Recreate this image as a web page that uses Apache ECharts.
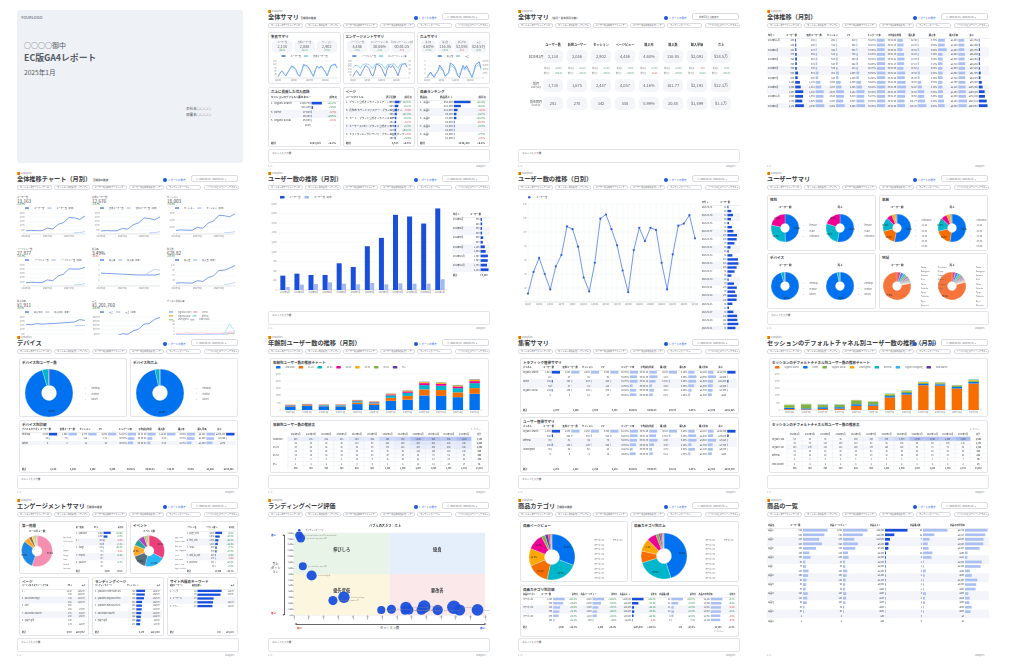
<!DOCTYPE html>
<html lang="ja">
<head>
<meta charset="utf-8">
<title>EC版GA4レポート</title>
<script src="https://cdn.jsdelivr.net/npm/echarts@6/dist/echarts.min.js"></script>
<style>
html,body{margin:0;padding:0;background:#fff;}
body{width:1024px;height:667px;position:relative;overflow:hidden;font-family:"Noto Sans CJK JP","Noto Sans",sans-serif;color:#3c4043;}
.pg{position:absolute;width:222px;height:158px;}
.a{position:absolute;white-space:nowrap;line-height:1;}
.cover{background:#eef1f6;border-radius:3px;}
.logo{left:0;top:0;font-size:2.6px;color:#80868b;}
.logo i{display:inline-block;width:2.6px;height:2.6px;margin-right:1px;vertical-align:-0.3px;background:linear-gradient(90deg,#f9ab00 0 30%,transparent 30% 36%,#e37400 36% 64%,transparent 64% 70%,#e37400 70%);}
.ttl{left:0;top:4.2px;font-size:6.2px;font-weight:700;color:#3c4043;}
.ttl small{font-size:2.6px;margin-left:1.5px;font-weight:700;color:#5f6368;}
.btn{left:146px;top:5.5px;font-size:2.5px;color:#1a56db;}
.btn b{display:inline-block;width:4px;height:4px;border-radius:50%;background:#1a56db;margin-right:1px;vertical-align:-1.2px;}
.date{left:174px;top:3px;width:47px;height:7px;border:0.5px solid #dadce0;border-radius:2px;font-size:2.2px;color:#5f6368;box-sizing:border-box;padding:2.2px 0 0 4px;}
.flt{top:13px;width:35.3px;height:5px;border:0.5px solid #dadce0;border-radius:2px;font-size:2.1px;color:#5f6368;box-sizing:border-box;padding:1.3px 0 0 2px;overflow:hidden;text-overflow:ellipsis;}
.pnl{border:0.5px solid #e3e5e8;border-radius:2px;background:#fff;box-sizing:border-box;}
.pt{font-size:3.5px;font-weight:700;color:#3c4043;}
.sm{font-size:2.5px;color:#5f6368;}
.cmt{left:0;top:139px;width:222px;height:14px;border:0.5px solid #e3e5e8;border-radius:2px;box-sizing:border-box;font-size:2.4px;color:#5f6368;padding:2px 3px;}
.ft{top:155px;font-size:2.2px;color:#80868b;}
</style>
</head>
<body>
<script>
// ---------------- data ----------------
const months12 = ['2024年2月','2024年3月','2024年4月','2024年5月','2024年6月','2024年7月','2024年8月','2024年9月','2024年10月','2024年11月','2024年12月','2025年1月'];
const monthlyUsers = [376,428,393,393,699,603,1145,1364,1967,1923,1738,2134];
const prevYearUsers = [78,140,157,201,166,149,184,149,175,166,166,281];
const monthlyNew = [362,410,378,380,672,580,1102,1318,1898,1855,1675,2046];
const monthlySessions = [512,585,540,536,951,820,1560,1857,2678,2615,2447,2902];
const monthlyPV = [786,890,822,818,1455,1256,2390,2845,4102,4010,4057,4446];
const monthlyCVR = [4.9,4.8,4.7,4.6,4.5,4.4,4.3,4.2,4.2,4.2,4.16,4.6];
const monthlyPurchases = [16.2,18.9,17.1,16.5,30.4,25.8,48.0,58.2,88.5,90.6,101.77,116.85];
const monthlyAOV = [1620,1580,1710,1650,1690,1720,1760,1810,1850,1900,2193,2093];
const monthlyRevenue = [26244,29862,29241,27225,51376,44376,84480,105342,163725,172140,223182,244567];
const prevUsers = [null,null,null,null,null,null,null,null,null,166,166,281];
const prevNew = [null,null,null,null,null,null,null,null,null,160,161,278];
const prevSessions = [null,null,null,null,null,null,null,null,null,201,204,342];
const prevPV = [null,null,null,null,null,null,null,null,null,325,330,558];
const prevCVR = [null,null,null,null,null,null,null,null,4.1,5.3,6.4,5.99];
const prevPurchases = [null,null,null,null,null,null,null,null,null,9.6,11.2,20.48];
const prevAOV = [null,null,null,null,null,null,null,null,null,1450,1480,1499];
const prevRevenue = [null,null,null,null,null,null,null,null,null,13900,16600,30700];
const cvrOrganic = [3.1,3.0,2.9,3.2,3.1,3.0,3.3,3.2,3.4,3.5,4.1,4.2];
const cvrDirect = [4.2,4.0,4.5,4.1,4.3,4.4,4.0,4.2,4.1,4.3,5.2,5.2];
const cvrSocial = [2.0,2.2,1.9,2.1,2.3,2.0,2.2,2.1,2.0,2.2,2.3,2.2];
const cvrReferral = [0,0,0,0,0,0,0,0,0,4.0,12.5,5.5];
const cvrUnassigned = [1.5,1.8,2.0,1.6,1.9,2.1,1.7,1.8,2.0,2.2,3.9,3.9];
const cvrPaid = [0,0,0,0,0,0,0,0,0,0,1.3,1.2];

// 15-month table
const months15 = ['2023年11月','2023年12月','2024年1月','2024年2月','2024年3月','2024年4月','2024年5月','2024年6月','2024年7月','2024年8月','2024年9月','2024年10月','2024年11月','2024年12月','2025年1月'];
const users15 = [205,248,281,376,428,393,393,699,603,1145,1364,1967,1923,1738,2134];
const new15 = [198,240,278,362,410,378,380,672,580,1102,1318,1898,1855,1675,2046];
const sessions15 = [262,318,342,512,585,540,536,951,820,1560,1857,2678,2615,2447,2902];
const pv15 = [410,502,558,786,890,822,818,1455,1256,2390,2845,4102,4010,4057,4446];
const eng15 = [58.2,60.1,57.4,61.3,59.8,62.0,60.7,63.5,61.9,64.2,62.8,60.4,61.7,62.5,60.9];
const time15 = [62,70,58,75,81,77,69,88,84,92,96,90,87,82,85];
const purch15 = [12.4,14.8,20.48,16.2,18.9,17.1,16.5,30.4,25.8,48.0,58.2,88.5,90.6,101.77,116.85];
const cvr15 = [4.73,4.65,5.99,3.16,3.23,3.17,3.08,3.20,3.15,3.08,3.13,3.30,3.46,4.16,4.60];
const aov15 = [1480,1520,1499,1620,1580,1710,1650,1690,1720,1760,1810,1850,1900,2193,2093];
const revenue15 = [18352,22496,30700,26244,29862,29241,27225,51376,44376,84480,105342,163725,172140,223182,244567];

// daily (January)
const dailyUsers = [12,43,63,40,18,51,67,108,104,79,35,15,56,119,125,104,81,45,14,74,106,87,106,103,56,18,68,109,112,124,91];
const dailyNew = [12,41,61,39,17,49,65,104,100,76,33,15,54,114,120,100,78,43,13,71,102,84,102,99,54,17,65,105,108,119,87];
const dailyPV = [25,90,131,84,38,106,140,225,217,164,73,32,117,248,261,217,169,93,29,154,221,182,221,215,117,38,142,228,234,259,190];
const dailyEng = [24.1,29.5,31.2,28.8,22.4,30.1,31.8,33.6,33.0,31.1,27.2,21.9,30.4,34.2,34.8,33.1,31.5,26.9,20.8,31.2,33.4,32.0,33.7,33.2,29.6,22.7,30.9,33.8,34.1,34.6,32.3];
const dailyPurchases = [0.2,1.6,2.8,1.4,0.3,2.1,3.1,6.0,5.5,3.7,0.9,0.2,2.5,7.1,7.9,5.8,3.9,1.3,0.2,3.4,5.9,4.4,5.8,5.5,2.2,0.3,3.1,6.2,6.6,7.6,4.6];
const dailyRevenue = [420,3350,5880,2930,630,4400,6490,12560,11510,7740,1880,420,5230,14860,16530,12140,8160,2720,420,7110,12350,9210,12140,11510,4600,630,6490,12980,13810,15910,9630];
const days31 = Array.from({length:31},(_,i)=>'1月'+(i+1)+'日');
const dates31 = Array.from({length:31},(_,i)=>'2025/01/'+String(i+1).padStart(2,'0'));

// summary KPIs
const kpiNames = ['ユーザー数','新規ユーザー','セッション','ページビュー','購入率','購入数','購入単価','売上'];
const kpiJan = ['2,134','2,046','2,902','4,446','4.60%','116.85','¥2,093','¥24.5万'];
const kpiPrevMonth = ['1,738','1,675','2,447','4,057','4.16%','101.77','¥2,193','¥22.3万'];
const kpiPrevYear = ['281','278','342','558','5.99%','20.48','¥1,499','¥3.1万'];
const kpiMoM = ['+22.8%','+22.1%','+18.6%','+9.6%','+10.6%','+14.8%','-4.6%','+9.9%'];
const kpiYoY = ['+659.4%','+636.0%','+748.5%','+696.8%','-23.2%','+470.6%','+39.6%','+690.3%'];

// channels
const srcChannels = ['Organic Search','Referral','Direct','Unassigned','Organic Social','Paid Search'];
const srcRevenue = [194700,28400,7900,6400,5900,225];
const srcChange = ['+11.2%','+4.5%','-8.3%','+19.6%','-2.1%','-'];
const pageTitlesTop = ['ブランド公式オンラインストア｜レザーバッグ・財布','レザートートバッグ A01｜ブランド公式オンラインストア','長財布 ラウンドファスナー｜ブランド公式オンラインストア','カテゴリ：バッグ一覧｜ブランド公式オンラインストア','カート｜ブランド公式オンラインストア','ミニ財布 B02｜ブランド公式オンラインストア','キーケース C03｜ブランド公式オンラインストア','新着アイテム｜ブランド公式オンラインストア','ギフトラッピングについて｜ブランド公式オンラインストア','ショルダーバッグ D04｜ブランド公式オンラインストア'];
const pageViewsTop = [812,605,418,366,290,251,233,210,188,160];
const pageChange = ['+12.5%','+8.1%','-3.4%','+21.0%','+5.2%','-6.7%','+2.9%','+30.1%','-1.8%','+9.9%'];
const productsTop = ['商品A','商品B','商品C','商品D','商品E','商品F','商品G','商品H','商品I','商品J'];
const productRevenueTop = [52400,21800,11600,8200,7900,2300,1900,1500,1400,1300];
const productChange = ['+18.4%','+6.2%','-4.1%','+9.7%','+12.0%','-15.3%','+3.3%','-','+7.5%','-2.6%'];

// age & channel monthly stacks
const ageNames = ['unknown','18-24','25-34','35-44','45-54','55-64','65+'];
const ageUnknown = [250,285,262,255,410,352,640,720,1010,980,890,1130];
const age1824 = [42,50,45,48,110,98,205,260,420,405,335,390];
const age2534 = [40,46,42,45,95,80,170,215,300,300,290,345];
const age3544 = [22,25,22,24,45,40,70,95,135,130,120,140];
const age4554 = [14,14,14,13,25,20,40,48,65,70,62,80];
const age5564 = [6,6,6,6,10,9,15,20,25,27,27,32];
const age65 = [2,2,2,2,4,4,5,6,12,11,14,17];
const chNames = ['Organic Search','Direct','Organic Social','Unassigned','Referral','Organic Shopping','Paid Search'];
const chOrganic = [60,45,80,95,290,300,870,1070,1720,1690,1500,1840];
const chDirect = [95,70,110,100,110,90,95,105,90,95,100,115];
const chSocial = [180,270,150,155,230,170,120,120,85,75,70,85];
const chUnassigned = [25,20,25,20,45,25,35,40,45,40,45,60];
const chReferral = [10,15,20,15,15,10,18,22,20,16,16,25];
const chShopping = [4,6,6,6,6,6,5,5,5,5,5,7];
const chPaid = [2,2,2,2,3,2,2,2,2,2,2,2];

// user attributes
const genders = ['female','male','unknown'];
const genderUsers = [1062,612,460];
const genderRevenue = [129800,66100,48500];
const ageUsersJan = [1130,390,345,140,80,32,17];
const ageRevenueJan = [128000,46500,38000,16500,9800,4000,1700];
const devices = ['desktop','mobile','tablet'];
const devUsers = [2043,88,9];
const devNew = [1962,79,8];
const devSessions = [2779,112,11];
const devPV = [4262,171,13];
const devEng = [61.2,48.5,40.0];
const devTime = [86,52,31];
const devPurch = [112.4,4.2,0.25];
const devCvr = [4.04,3.75,2.27];
const devAov = [2101,1880,1500];
const devRevenue = [236150,7896,375];
const regions = ['Osaka','Kanagawa','Saitama','Aichi','Chiba','Fukuoka','Hyogo','Hokkaido','Kyoto','Shizuoka','Hiroshima','Miyagi','Ibaraki','Niigata','Okayama','Tokyo'];
const regionUsers = [92,78,55,48,42,30,26,22,18,15,12,10,9,8,6,1663];
const regionRevenue = [9800,8100,5900,5200,4600,3300,2800,2300,1900,1600,1300,1100,900,800,600,193000];

// acquisition tables
const trCh = ['Organic Search','Referral','Direct','Unassigned','Organic Social','Paid Search'];
const trUsers = [1612,28,198,59,142,8];
const trNew = [1548,27,190,57,136,8];
const trSess = [2208,38,283,81,186,12];
const trPV = [3390,61,420,118,275,17];
const trEng = [62.3,55.0,58.7,21.6,48.9,50.0];
const trTime = [88,95,72,31,54,40];
const trPurch = [92.5,2.1,14.8,3.2,4.1,0.15];
const trCvr = [4.19,5.53,5.23,3.95,2.20,1.25];
const trAov = [2105,3050,1920,1850,1780,1500];
const trRev = [194700,6400,28400,5900,7300,225];
const uaCh = ['Organic Search','Direct','Referral','Organic Social','Unassigned','Paid Search'];
const uaUsers = [1580,240,33,150,45,6];
const uaNew = [1530,232,31,145,43,6];
const uaSess = [2150,335,44,196,60,9];
const uaPV = [3300,510,70,290,88,12];
const uaEng = [61.8,59.1,54.0,47.5,22.1,44.4];
const uaTime = [86,74,90,52,30,38];
const uaPurch = [90.2,17.1,2.4,4.3,2.7,0.12];
const uaCvr = [4.20,5.10,5.45,2.19,4.50,1.33];
const uaAov = [2110,1930,3010,1790,1840,1500];
const uaRev = [190300,33000,7220,7700,4970,180];

// engagement
const level1 = ['/products','/collections','/','/pages','/blogs','/cart','/search','/account','/policies','(other)'];
const level1PV = [2480,1350,260,150,110,60,30,20,15,10];
const level1Change = ['+10.2%','+8.8%','-2.4%','+5.1%','+31.0%','-4.5%','+2.2%','-','+1.0%','-'];
const events = ['page_view','session_start','first_visit','user_engagement','scroll','view_item','add_to_cart','begin_checkout','purchase','view_search_results'];
const eventCounts = [4446,2902,2046,1620,980,860,320,180,117,95];
const eventChange = ['+9.6%','+18.6%','+22.1%','+12.4%','+7.7%','+15.0%','+4.9%','-3.2%','+14.8%','+6.0%'];
const pagePaths = ['/','/products/leather-tote-a01','/collections/bags','/products/long-wallet-b02','/cart','/products/mini-wallet-c03','/collections/wallets','/products/key-case-d04','/pages/gift','/products/shoulder-e05'];
const pagePathPV = [1210,640,512,455,388,301,276,240,198,173];
const landingPaths = ['/products/leather-tote-a01','/','/products/long-wallet-b02','/collections/bags','/products/mini-wallet-c03','/products/key-case-d04','/collections/wallets','/products/shoulder-e05','/pages/gift','/blogs/news/care'];
const landingSessions = [620,598,542,410,395,380,350,322,290,271];
const landingRevenue = [48200,39800,31500,22800,19600,17400,12900,11200,9800,8700];
const searchKeywords = ['バッグ','財布','キーケース','名入れ','ギフト'];
const searchCounts = [42,40,28,27,26];

// landing-page evaluation bubbles
const lpNames = ['/products/leather-tote-a01?variant=black','/products/long-wallet-b02','/products/key-case-d04','/collections/gift','/products/mini-wallet-c03','/collections/bags','/pages/about','/blogs/news/care','/collections/wallets','/products/card-case-f06','/products/shoulder-e05','/collections/new','/pages/gift','/products/pouch-g07','/collections/sale','/','/search'];
const lpSessions = [3.5,4.6,6.0,12,26.5,34,59.4,66.3,76.2,75.5,78.2,86.7,88.6,97.8,108.8,112.7,124.9];
const lpRevPerSession = [13600,13140,8340,6740,2460,3030,860,970,1310,800,860,860,1430,860,1310,860,860];
const lpRevenue = [47600,60400,50000,80900,65200,103000,51100,64300,99800,60400,67300,74600,126700,84100,142500,96900,107400];
const quadX = 65, quadY = 7000;

// product categories & products
const categories = ['カテゴリ01','カテゴリ02','カテゴリ03','カテゴリ04','カテゴリ05','カテゴリ06','カテゴリ07','カテゴリ08','カテゴリ09','カテゴリ10'];
const catPV = [3120,2280,1540,1250,1150,260,230,120,90,60];
const catRevenue = [110500,61200,20400,22300,15800,5200,3100,2600,1900,1500];
const cat6 = ['カテゴリ01','カテゴリ02','カテゴリ03','カテゴリ04','カテゴリ05','カテゴリ06'];
const catUsers6 = [1020,880,610,540,470,120];
const catUsersChg = ['+120.5%','+98.2%','+64.0%','+51.3%','+44.7%','+12.1%'];
const catPV6 = [3120,2280,1540,1250,1150,260];
const catPVChg = ['+131.2%','+88.0%','+70.5%','+39.8%','+41.6%','+9.4%'];
const catRev6 = [110500,61200,20400,22300,15800,5200];
const catRevChg = ['+152.0%','+76.3%','+33.1%','+58.4%','+22.9%','-4.0%'];
const catPurch6 = [52,31,11,12,9,3];
const catPurchChg = ['+140.7%','+72.2%','+37.5%','+50.0%','+28.6%','0.0%'];
const catAvg6 = [2125,1974,1855,1858,1756,1733];
const catAvgChg = ['+4.7%','+2.4%','-3.2%','+5.6%','-4.4%','-4.0%'];
const products21 = ['商品A','商品B','商品C','商品D','商品E','商品F','商品G','商品H','商品I','商品J','商品K','商品L','商品M','商品N','商品O','商品P','商品Q','商品R','商品S','商品T','商品U'];
const prodUsers = [620,540,410,480,330,160,190,60,75,140,130,90,80,70,120,110,95,40,30,2,1];
const prodPV = [1020,820,470,620,510,210,230,80,95,180,150,110,90,85,140,130,100,55,40,3,2];
const prodRevenue = [52400,21800,11600,8200,7900,2300,1900,1500,1400,1300,1200,1100,1000,950,900,850,800,600,500,80,40];
const prodPurch = [26,12,7,5,6,10,9,1,1,3,2,1,1,1,3,2,2,1,1,0,0];
const prodAvg = [2015,1817,1657,1640,1317,230,211,1500,1400,433,600,1100,1000,950,300,425,400,600,500,0,0];

// ---------------- helpers ----------------
const FONT = '"Noto Sans CJK JP","Noto Sans",sans-serif';
const DARK = '#1a4fdc', LIGHT = '#aabff2', LINE = '#3f6fe0', LINE2 = '#7cc6f0';
const AGE_COLORS = ['#0072f0','#f66d00','#00b6cb','#f10096','#ffa800','#7cb342','#5e35b1'];
const CH_COLORS = ['#f66d00','#0072f0','#7cb342','#ffa800','#00b6cb','#29b6f6','#5e35b1'];
const FILTERS = ['セッションのデフォルトチャネル グループ','セッションの参照元 / メディア','ユーザーの最初のデフォルトチャネル グループ','ユーザーの最初の参照元 / メディア','ランディングページ','ページパスとスクリーンクラス'];

const fmtN = v => typeof v === 'number' ? v.toLocaleString('en-US') : v;
const fmtY = v => '¥' + Math.round(v).toLocaleString('en-US');
const fmtP = v => v.toFixed(2) + '%';
const fmtD = v => v.toFixed(2);
const fmtT = s => '00:' + String(Math.floor(s/60)).padStart(2,'0') + ':' + String(s%60).padStart(2,'0');
const sum = a => a.reduce((s,v)=>s+(v||0),0);
const clip = (s,n) => s.length > n ? s.slice(0,n) + '…' : s;

const PX = [17,268,518,767], PY = [10,172,336,499];
const pages = [];
for (let i = 0; i < 16; i++) {
  const d = document.createElement('div');
  d.className = 'pg';
  d.style.left = PX[i%4] + 'px';
  d.style.top = PY[Math.floor(i/4)] + 'px';
  document.body.appendChild(d);
  pages.push(d);
}
function el(p, cls, x, y, html, css) {
  const d = document.createElement('div');
  d.className = 'a ' + cls;
  if (x != null) d.style.left = x + 'px';
  if (y != null) d.style.top = y + 'px';
  if (css) d.style.cssText += css;
  d.innerHTML = html || '';
  pages[p].appendChild(d);
  return d;
}
function panel(p, x, y, w, h, title) {
  el(p, 'pnl', x, y, '', 'width:'+w+'px;height:'+h+'px');
  if (title) el(p, 'pt', x+3, y+3, title);
}
function chart(p, x, y, w, h, opt) {
  const d = document.createElement('div');
  d.style.cssText = 'position:absolute;left:'+x+'px;top:'+y+'px;width:'+w+'px;height:'+h+'px';
  pages[p].appendChild(d);
  const c = echarts.init(d, null, {renderer:'canvas'});
  c.setOption(Object.assign({animation:false, textStyle:{fontFamily:FONT}}, opt));
  return c;
}
function chrome(p, title, sub, o) {
  o = o || {};
  el(p, 'logo', null, null, '<i></i>Analytics');
  el(p, 'ttl', null, null, title + (sub ? '<small>'+sub+'</small>' : ''));
  el(p, 'btn', null, null, '<b></b>レポートの見方');
  el(p, 'date', null, null, o.date || '▣&nbsp; 2025/01/01 - 2025/01/31 &nbsp;▾');
  FILTERS.forEach((f,i)=>el(p, 'flt', i*37.3, null, f + ' ▾'));
  if (o.comment !== false) el(p, 'cmt', null, null, o.comment === 'empty' ? '' : 'コメントを入力欄');
  el(p, 'ft', 0, null, '1 / 1');
  el(p, 'ft', 208, null, 'Analytics');
}
function axisOff() { return {axisLine:{show:false}, axisTick:{show:false}}; }

// table: striped rows, text columns and in-cell bars
function table(p, x, y, w, h, t) {
  const head = t.head === undefined ? 5 : t.head;
  const fs = t.fs || 2.5;
  const rows = t.rows, n = rows.length;
  const lw = t.labelW;
  const tw = t.cols.reduce((s,c)=>s+(c.w||1),0);
  const rest = w - lw;
  const band = (h - head) / n;
  const weight = t.bold ? 'bold' : 'normal';
  const grids = [{left:0, right:0, top:head, bottom:0, outerBoundsMode:'none'}];
  const xs = [{type:'value', gridIndex:0, position:'top', show:head>0, axisLine:{show:true, lineStyle:{color:'#dadce0', width:0.5}}, axisLabel:{show:false}, axisTick:{show:false}, splitLine:{show:false}}];
  const ys = [{type:'category', gridIndex:0, data:rows, inverse:true, axisLine:{show:false}, axisTick:{show:false},
    axisLabel:{inside:true, margin:1, fontSize:fs, color:'#3c4043', fontWeight:weight,
      formatter:(v,i)=>(t.numbered ? (i+1)+'.  ' : '') + clip(v, t.clip || 99)},
    splitArea:{show:t.stripe !== false, areaStyle:{color:['#ffffff','#f3f5fa']}}}];
  const titles = [];
  if (head > 0 && t.labelHead) titles.push({text:t.labelHead, left:1, top:0.8, padding:0, textStyle:{fontSize:fs, fontWeight:'bold', color:'#3c4043'}});
  const series = [];
  let cx = lw;
  t.cols.forEach((c,i)=>{
    const cw = rest * (c.w||1) / tw;
    const gi = i + 1;
    const f = c.fmt || fmtN;
    const nw = c.bar ? cw * (c.nw || 0.5) : 0;
    grids.push({left:cx+nw, top:head, width:Math.max(1, cw-nw-1.5), bottom:0, outerBoundsMode:'none'});
    const mx = c.bar ? Math.max(...c.data) : 1;
    xs.push({type:'value', gridIndex:gi, min:0, max:mx||1, show:false});
    ys.push({type:'category', gridIndex:gi, data:rows, inverse:true, show:false});
    series.push({type:'bar', xAxisIndex:gi, yAxisIndex:gi, silent:true,
      barWidth: c.bar ? Math.max(1.2, band*0.6) : band*0.8,
      data: c.bar ? c.data : c.data.map(()=>1),
      itemStyle:{color: c.bar ? (c.dark ? DARK : LIGHT) : 'rgba(0,0,0,0)'},
      label:{show:true, position: c.bar ? 'left' : 'insideRight', distance:1, fontSize:fs, color:'#3c4043', fontWeight:weight,
        formatter: q=>{ const s = f(c.data[q.dataIndex]); return c.delta ? '{'+(String(s).startsWith('-') ? 'r' : 'g')+'|'+s+'}' : s; },
        rich:{g:{color:'#188038', fontSize:fs}, r:{color:'#d93025', fontSize:fs}}}});
    if (head > 0 && c.name) titles.push(c.bar
      ? {text:c.name, left:cx+1, top:0.8, padding:0, textStyle:{fontSize:fs, fontWeight:'bold', color:'#3c4043'}}
      : {text:c.name, left:cx+cw-1.5, textAlign:'right', top:0.8, padding:0, textStyle:{fontSize:fs, fontWeight:'bold', color:'#3c4043'}});
    cx += cw;
  });
  chart(p, x, y, w, h, {title:titles, grid:grids, xAxis:xs, yAxis:ys, series});
}

// KPI cells laid out on a category axis
function kpi(p, x, y, w, h, labels, values, deltas) {
  const cw = w / labels.length - 2;
  chart(p, x, y, w, h, {
    grid:{left:0, right:0, top:0, bottom:0},
    xAxis:{type:'category', data:labels, show:false},
    yAxis:{type:'value', min:0, max:1, show:false},
    series:[{type:'scatter', silent:true, symbol:'roundRect', symbolSize:[cw, h-0.5], data:labels.map(()=>0.5),
      itemStyle:{color:'#f1f3f7'},
      label:{show:true, position:'inside', lineHeight:4,
        formatter:q=>'{l|'+labels[q.dataIndex]+'}\n{v|'+values[q.dataIndex]+'}\n{'+(deltas[q.dataIndex].startsWith('-')?'r':'g')+'|'+deltas[q.dataIndex]+'}',
        rich:{l:{fontSize:1.9, color:'#5f6368', lineHeight:3}, v:{fontSize:3.8, color:'#3c4043', lineHeight:5.5}, g:{fontSize:1.8, color:'#188038', lineHeight:3}, r:{fontSize:1.8, color:'#d93025', lineHeight:3}}}}]
  });
}

function lines(p, x, y, w, h, names, data, o) {
  o = o || {};
  const cols = o.colors || [LINE, LINE2];
  chart(p, x, y, w, h, {
    legend:{data:names, top:0, left:o.legendLeft || 'center', itemWidth:4, itemHeight:1.5, itemGap:3, icon:'rect', textStyle:{fontSize:2.1, color:'#5f6368'}, padding:0, selectedMode:false},
    grid:{left:o.left || 9, right:o.right2 ? 8 : 3, top:o.top || 6, bottom:5, outerBoundsMode:'none'},
    xAxis:{type:'category', data:o.x || days31, boundaryGap:false, axisLine:{lineStyle:{color:'#c8ccd2', width:0.4}}, axisTick:{show:false}, axisLabel:{fontSize:1.9, color:'#777', margin:1.5, interval:o.xi === undefined ? 6 : o.xi}},
    yAxis:[
      {type:'value', max:o.max, splitNumber:o.split || 4, axisLabel:{fontSize:1.9, color:'#777', margin:1.5}, splitLine:{lineStyle:{color:'#eceef1', width:0.4}}},
      {type:'value', show:!!o.right2, splitNumber:o.split || 4, axisLabel:{fontSize:1.9, color:'#777', margin:1.5}, splitLine:{show:false}}
    ],
    series: data.map((d,i)=>({type:'line', name:names[i], data:d, yAxisIndex:(o.right2 && i === 1) ? 1 : 0, symbol:'none', connectNulls:false,
      lineStyle:{width:o.lw || 0.7, color:cols[i]}, itemStyle:{color:cols[i]}}))
  });
}

function pieS(names, values, colors, center, radius, lf) {
  return {type:'pie', center, radius, startAngle:90, clockwise:true, avoidLabelOverlap:false, silent:true,
    data:names.map((nm,i)=>({name:nm, value:values[i], itemStyle:{color:colors[i % colors.length]}})),
    label:{show:true, position:'inside', fontSize:lf || 2.1, color:'#222', formatter:q=>q.percent >= 9 ? q.percent.toFixed(1)+'%' : ''},
    labelLine:{show:false}, itemStyle:{borderColor:'#fff', borderWidth:0.25}};
}
function legV(names, left, top, o) {
  o = o || {};
  return {data:names, orient:'vertical', left, top, itemWidth:o.s || 2.6, itemHeight:o.s || 2.6, itemGap:o.gap === undefined ? 0.9 : o.gap, icon:o.icon || 'circle',
    textStyle:{fontSize:o.fs || 2.2, color:'#5f6368'}, padding:0, selectedMode:false};
}

function stacked(p, x, y, w, h, names, series, colors) {
  chart(p, x, y, w, h, {
    legend:{data:names, top:0, left:4, itemWidth:4.5, itemHeight:2.5, itemGap:4, icon:'roundRect', textStyle:{fontSize:2.1, color:'#5f6368'}, padding:0, selectedMode:false},
    grid:{left:10, right:4, top:8, bottom:6, outerBoundsMode:'none'},
    xAxis:{type:'category', data:months12, axisLine:{lineStyle:{color:'#c8ccd2', width:0.4}}, axisTick:{show:false}, axisLabel:{fontSize:1.9, color:'#777', margin:1.5, interval:0}},
    yAxis:{type:'value', min:0, max:2500, interval:500, axisLabel:{fontSize:1.9, color:'#777', margin:1.5}, splitLine:{lineStyle:{color:'#eceef1', width:0.4}}},
    series: series.map((d,i)=>({type:'bar', name:names[i], stack:'t', data:d, barWidth:'62%', itemStyle:{color:colors[i]}}))
  });
}

function heat(p, x, y, w, h, rowNames, matrix, left) {
  const nR = rowNames.length, nC = months12.length;
  const data = [], tot = [];
  let mx = 0;
  matrix.forEach((row,r)=>row.forEach((v,c)=>{ data.push([c, r, v]); mx = Math.max(mx, v); }));
  matrix.forEach((row,r)=>tot.push([nC, r, sum(row)]));
  months12.forEach((m,c)=>tot.push([c, nR, sum(matrix.map(rw=>rw[c]))]));
  tot.push([nC, nR, sum(matrix.map(sum))]);
  chart(p, x, y, w, h, {
    grid:{left:left, right:0, top:5, bottom:0, outerBoundsMode:'none'},
    xAxis:{type:'category', data:[...months12, '総計'], position:'top', ...axisOff(), axisLabel:{fontSize:2.1, color:'#3c4043', margin:1.3, interval:0}},
    yAxis:{type:'category', data:[...rowNames, '総計'], inverse:true, ...axisOff(), axisLabel:{fontSize:2.2, color:'#3c4043', align:'left', margin:left-1, formatter:v=>clip(v, 11)}},
    visualMap:[
      {type:'continuous', min:0, max:mx, seriesIndex:0, dimension:2, show:false, inRange:{color:['#ffffff','#a9bcf0']}},
      {type:'continuous', min:0, max:1, seriesIndex:1, dimension:2, show:false, inRange:{color:['#ffffff','#ffffff']}}
    ],
    series:[
      {type:'heatmap', data, silent:true, itemStyle:{borderColor:'#e4e6ea', borderWidth:0.3}, label:{show:true, fontSize:2, color:'#3c4043', formatter:q=>fmtN(q.value[2])}},
      {type:'heatmap', data:tot, silent:true, itemStyle:{borderColor:'#e4e6ea', borderWidth:0.3}, label:{show:true, fontSize:2, fontWeight:'bold', color:'#3c4043', formatter:q=>fmtN(q.value[2])}}
    ]
  });
}

// ---------------- page 1: cover ----------------
(function(){
  const p = 0;
  el(p, 'cover', 0, 0, '', 'width:226px;height:153px;');
  el(p, '', 4, 5, 'YOURLOGO', 'font-size:4px;font-weight:700;color:#8a8f98;letter-spacing:-0.1px;');
  el(p, '', 7, 31.5, '○○○○御中', 'font-size:7px;color:#555b63;');
  el(p, '', 7, 44, 'EC版GA4レポート', 'font-size:8.8px;font-weight:700;color:#555b63;');
  el(p, '', 7, 58.5, '2025年1月', 'font-size:6.6px;color:#555b63;');
  el(p, '', 169, 97, '会社名○○○○', 'font-size:3.6px;color:#555b63;');
  el(p, '', 169, 102.5, '部署名○○○○', 'font-size:3.6px;color:#555b63;');
})();

// ---------------- page 2: overall summary ----------------
(function(){
  const p = 1;
  chrome(p, '全体サマリ', '全期間の推移');
  const px = [0, 74.5, 149];
  ['集客サマリ','エンゲージメントサマリ','売上サマリ'].forEach((t,i)=>panel(p, px[i], 22, 72.5, 52, t));
  kpi(p, 3, 30, 67, 13, ['ユーザー数','新規ユーザー数','セッション'], kpiJan.slice(0,3), kpiMoM.slice(0,3));
  kpi(p, 77.5, 30, 67, 13, ['ページビュー数','エンゲージメント率','平均エンゲージメント時間'], ['4,446','30.66%','00:01:25'], ['+9.6%','+1.2%','-3.0%']);
  kpi(p, 152, 30, 67, 13, ['購入率','購入数','購入単価','売上'], kpiJan.slice(4), kpiMoM.slice(4));
  lines(p, 1, 45, 70.5, 28, ['ユーザー数','新規ユーザー数'], [dailyUsers, dailyNew], {xi:7});
  lines(p, 75.5, 45, 70.5, 28, ['ページビュー数','エンゲージメント率'], [dailyPV, dailyEng], {xi:7, right2:true});
  lines(p, 150, 45, 70.5, 28, ['購入数','売上'], [dailyPurchases, dailyRevenue], {xi:7, right2:true});
  panel(p, 0, 77, 72.5, 60, '売上に貢献した流入経路');
  panel(p, 74.5, 77, 72.5, 60, 'ページ');
  panel(p, 149, 77, 72.5, 60, '商品ランキング');
  table(p, 2, 85, 68.5, 32, {rows:srcChannels, labelW:27, numbered:true, head:6, labelHead:'セッションのデフォルトチャネル…', cols:[
    {name:'売上 ↓', data:srcRevenue, bar:true, dark:true, fmt:fmtY, w:1.4, nw:0.55}, {name:'前年比', data:srcChange, delta:true, w:0.8}]});
  table(p, 2, 131, 68.5, 4, {rows:['総計'], labelW:27, head:0, stripe:false, bold:true, cols:[{data:[sum(srcRevenue)], fmt:fmtY, w:1.4}, {data:['+9.8%'], w:0.8}]});
  table(p, 76.5, 85, 68.5, 45, {rows:pageTitlesTop, labelW:40, numbered:true, clip:22, labelHead:'ページタイトル', cols:[
    {name:'表示回数', data:pageViewsTop, bar:true, dark:true, w:0.9, nw:0.6}, {name:'前月比', data:pageChange, delta:true, w:0.7}]});
  table(p, 76.5, 131, 68.5, 4, {rows:['総計'], labelW:40, head:0, stripe:false, bold:true, cols:[{data:[sum(pageViewsTop)], w:0.9}, {data:['+9.6%'], w:0.7}]});
  table(p, 151, 85, 68.5, 45, {rows:productsTop, labelW:20, numbered:true, labelHead:'商品名', cols:[
    {name:'商品売上 ↓', data:productRevenueTop, bar:true, dark:true, fmt:fmtY, w:1.5, nw:0.45}, {name:'前月比', data:productChange, delta:true, w:0.7}]});
  table(p, 151, 131, 68.5, 4, {rows:['総計'], labelW:20, head:0, stripe:false, bold:true, cols:[{data:[sum(productRevenueTop)], fmt:fmtY, w:1.5}, {data:['+9.9%'], w:0.7}]});
})();

// ---------------- page 3: month / year comparison ----------------
(function(){
  const p = 2;
  chrome(p, '全体サマリ', '（前月・前年同月比較）', {date:'&nbsp;&nbsp;&nbsp;&nbsp;前年同月と比較表示'});
  const cellOpt = (rowLabel, vals, top, withHead, deltas) => ({
    grid:{left:23, width:192, top:top, height:13, outerBoundsMode:'none'},
    xAxis:{type:'category', data:kpiNames, position:'top', show:true, ...axisOff(), axisLabel:{show:withHead, fontSize:3.1, fontWeight:'bold', color:'#3c4043', margin:3.5, interval:0}},
    yAxis:{type:'category', data:[rowLabel], ...axisOff(), axisLabel:{fontSize:3, color:'#3c4043', margin:5, align:'center', lineHeight:4,
      formatter:v=>{ const s = v.split('|'); return s[0] + (s[1] ? '\n{s|' + s[1] + '}' : ''); }, rich:{s:{fontSize:1.9, color:'#5f6368'}}}},
    series:[
      {type:'scatter', silent:true, symbol:'roundRect', symbolSize:[20,13], data:kpiNames.map((k,i)=>[i,0]), itemStyle:{color:'#f1f3f7'},
        label:{show:true, position:'inside', fontSize:4, color:'#3c4043', formatter:q=>vals[q.dataIndex]}}
    ].concat(deltas ? [{type:'scatter', silent:true, symbolSize:0, data:kpiNames.map((k,i)=>[i,0]),
        label:{show:true, position:'bottom', distance:9.5, lineHeight:4.6,
          formatter:q=>{ const a = kpiMoM[q.dataIndex], b = kpiYoY[q.dataIndex];
            return '{k|前月比}  {'+(a.startsWith('-')?'r':'g')+'|'+a+'}\n{k|前年比}  {'+(b.startsWith('-')?'r':'g')+'|'+b+'}'; },
          rich:{k:{fontSize:1.9, color:'#5f6368'}, g:{fontSize:1.9, color:'#188038'}, r:{fontSize:1.9, color:'#d93025'}}}}] : [])
  });
  chart(p, 0, 28, 222, 38, cellOpt('2025年1月', kpiJan, 12, true, true));
  chart(p, 0, 68, 222, 15, cellOpt('前月|2024年12月', kpiPrevMonth, 1, false, false));
  chart(p, 0, 86, 222, 15, cellOpt('前年同月|2024年1月', kpiPrevYear, 1, false, false));
})();

// ---------------- page 4: monthly overview table ----------------
(function(){
  const p = 3;
  chrome(p, '全体推移（月別）', '', {comment:false});
  table(p, 0, 23, 222, 75, {rows:months15, labelW:18, fs:2.2, labelHead:'年月 ↓', cols:[
    {name:'ユーザー数', data:users15, bar:true, dark:true},
    {name:'新規ユーザー数', data:new15, bar:true},
    {name:'セッション', data:sessions15, bar:true},
    {name:'PV', data:pv15, bar:true},
    {name:'エンゲージ率', data:eng15, bar:true, fmt:fmtP},
    {name:'平均滞在時間', data:time15, bar:true, fmt:fmtT},
    {name:'購入数', data:purch15, bar:true, fmt:fmtD},
    {name:'購入率', data:cvr15, bar:true, fmt:fmtP},
    {name:'購入単価', data:aov15, bar:true, fmt:fmtY},
    {name:'売上', data:revenue15, bar:true, dark:true, fmt:fmtY}]});
})();

// ---------------- page 5: monthly trend charts ----------------
(function(){
  const p = 4;
  pages[p].style.height = '163px';
  pages[p].style.overflow = 'hidden';
  chrome(p, '全体推移チャート（月別）', '全期間の推移', {comment:false});
  pages[p].querySelectorAll('.ft').forEach(e=>e.remove());
  const cx = [0, 75, 150], ry = [24, 76, 128];
  const C = ['#5b86e8','#b3c9f5'];
  const cells = [
    ['ユーザー数', fmtN(sum(monthlyUsers)), '+659.4%', monthlyUsers, prevUsers],
    ['新規ユーザー数', fmtN(sum(monthlyNew)), '+636.0%', monthlyNew, prevNew],
    ['セッション', fmtN(sum(monthlySessions)), '+748.5%', monthlySessions, prevSessions],
    ['ページビュー数', fmtN(sum(monthlyPV)), '+696.8%', monthlyPV, prevPV],
    ['購入率', (sum(monthlyPurchases)/sum(monthlySessions)*100).toFixed(2)+'%', '-23.2%', monthlyCVR, prevCVR],
    ['購入数', fmtD(sum(monthlyPurchases)), '+470.6%', monthlyPurchases, prevPurchases],
    ['購入単価', fmtY(sum(monthlyRevenue)/sum(monthlyPurchases)), '+39.6%', monthlyAOV, prevAOV],
    ['売上', fmtY(sum(monthlyRevenue)), '+690.3%', monthlyRevenue, prevRevenue]
  ];
  cells.forEach((c,i)=>{
    const x = cx[i%3], y = ry[Math.floor(i/3)];
    el(p, 'sm', x, y, c[0], 'font-size:2.2px;');
    el(p, '', x, y+2.6, c[1], 'font-size:4.6px;color:#3c4043;');
    el(p, '', x, y+7.6, c[2], 'font-size:2px;color:' + (c[2].startsWith('-') ? '#d93025' : '#188038') + ';');
    lines(p, x, y+11, 71, 32, [c[0], c[0]+'（前年）'], [c[3], c[4]], {x:months12, xi:3, colors:C, legendLeft:8, lw:0.8});
  });
  const chLabels = ['Organic Search','Direct','Organic Social','Referral','Unassigned','Paid Search'];
  const chLineColors = ['#8fb3f3','#f5a3c7','#f8b26a','#8fd3f0','#b9d98e','#c5b3e6'];
  el(p, 'sm', 150, 128, 'チャネル別購入率', 'font-size:2.2px;');
  chart(p, 150, 139, 71, 32, {
    legend:{data:chLabels, top:0, left:2, width:60, itemWidth:4, itemHeight:1.5, itemGap:2, icon:'rect', textStyle:{fontSize:1.9, color:'#5f6368'}, padding:0, selectedMode:false},
    grid:{left:9, right:3, top:10, bottom:5, outerBoundsMode:'none'},
    xAxis:{type:'category', data:months12, boundaryGap:false, axisLabel:{fontSize:1.9}, axisLine:{lineStyle:{color:'#ccc', width:0.4}}},
    yAxis:{type:'value', axisLabel:{fontSize:1.9, color:'#777', margin:1.5}, splitLine:{lineStyle:{color:'#eceef1', width:0.4}}},
    series:[cvrOrganic, cvrDirect, cvrSocial, cvrReferral, cvrUnassigned, cvrPaid].map((d,i)=>({type:'line', name:chLabels[i], data:d, symbol:'none',
      lineStyle:{width:0.6, color:chLineColors[i]}, itemStyle:{color:chLineColors[i]}}))
  });
})();

// ---------------- page 6: monthly users ----------------
(function(){
  const p = 5;
  chrome(p, 'ユーザー数の推移（月別）');
  chart(p, 0, 24, 182, 100, {
    legend:{data:['ユーザー数','ユーザー数（前年）'], left:12, top:0, itemWidth:4.5, itemHeight:2.5, itemGap:4, icon:'rect', textStyle:{fontSize:2.2, color:'#5f6368'}, padding:0, selectedMode:false},
    grid:{left:10, right:3, top:8, bottom:6, outerBoundsMode:'none'},
    xAxis:{type:'category', data:months12, axisTick:{show:false}, axisLine:{lineStyle:{color:'#c8ccd2', width:0.4}}, axisLabel:{fontSize:2, color:'#777', margin:1.5, interval:0}},
    yAxis:{type:'value', min:0, max:2250, interval:250, name:'ユーザー数', nameLocation:'middle', nameGap:7, nameTextStyle:{fontSize:2.2, color:'#777'},
      axisLabel:{fontSize:2, color:'#777', margin:1.5}, splitLine:{lineStyle:{color:'#eceef1', width:0.4}}},
    series:[
      {type:'bar', name:'ユーザー数', data:monthlyUsers, barWidth:5, barGap:'8%', itemStyle:{color:DARK}},
      {type:'bar', name:'ユーザー数（前年）', data:prevYearUsers, barWidth:4, itemStyle:{color:'#a3b8ee'}}]
  });
  table(p, 184, 40, 38, 60, {rows:months12, labelW:17, fs:2.2, labelHead:'年月 ↓', cols:[{name:'ユーザー数', data:monthlyUsers, bar:true, dark:true, nw:0.55}]});
  table(p, 184, 101, 38, 4, {rows:['総計'], labelW:17, head:0, stripe:false, bold:true, fs:2.2, cols:[{data:[sum(monthlyUsers)]}]});
})();

// ---------------- page 7: daily users ----------------
(function(){
  const p = 6;
  chrome(p, 'ユーザー数の推移（日別）', '', {comment:false});
  pages[p].querySelectorAll('.ft').forEach(e=>e.remove());
  chart(p, 0, 24, 180, 112, {
    legend:{data:['ユーザー数'], left:10, top:0, itemWidth:4, itemHeight:2.5, icon:'circle', textStyle:{fontSize:2.2, color:'#5f6368'}, padding:0, selectedMode:false},
    grid:{left:10, right:3, top:8, bottom:6, outerBoundsMode:'none'},
    xAxis:{type:'category', data:days31, boundaryGap:false, axisTick:{show:false}, axisLine:{lineStyle:{color:'#c8ccd2', width:0.4}},
      axisLabel:{fontSize:1.9, color:'#777', margin:1.5, interval:1}, splitLine:{show:true, interval:0, lineStyle:{color:'#eceef1', width:0.4}}},
    yAxis:{type:'value', min:0, max:140, interval:20, name:'ユーザー数', nameLocation:'middle', nameGap:6.5, nameTextStyle:{fontSize:2.2, color:'#777'},
      axisLabel:{fontSize:1.9, color:'#777', margin:1.5}, splitLine:{lineStyle:{color:'#eceef1', width:0.4}}},
    series:[{type:'line', name:'ユーザー数', data:dailyUsers, symbol:'circle', symbolSize:2.2, lineStyle:{width:0.8, color:'#4f7fe8'}, itemStyle:{color:'#2f5fe0'}}]
  });
  table(p, 183, 28, 39, 130, {rows:dates31, labelW:18, fs:2, labelHead:'日付 ↓', cols:[{name:'ユーザー数', data:dailyUsers, bar:true, dark:true, nw:0.4}]});
})();

// ---------------- page 8: user summary ----------------
(function(){
  const p = 7;
  chrome(p, 'ユーザーサマリ');
  const pans = [[0,23,'性別'],[112,23,'年齢'],[0,81,'デバイス'],[112,81,'地域']];
  pans.forEach(a=>panel(p, a[0], a[1], 108.5, 55.5, a[2]));
  const dual = (x, y, names, v1, v2, colors, o) => chart(p, x, y, 108, 55, {
    title:[{text:'ユーザー数', left:18, top:11, textAlign:'center', padding:0, textStyle:{fontSize:2.6, fontWeight:'bold', color:'#3c4043'}},
           {text:'売上', left:73, top:11, textAlign:'center', padding:0, textStyle:{fontSize:2.6, fontWeight:'bold', color:'#3c4043'}}],
    legend:[legV(names, 34, o.lt, o.lg), legV(names, 89, o.lt, o.lg)],
    series:[pieS(names, v1, colors, [18,33], [4.5,14]), pieS(names, v2, colors, [73,33], [4.5,14])]
  });
  dual(0, 23, genders, genderUsers, genderRevenue, ['#0072f0','#00b6cb','#f10096'], {lt:28});
  dual(112, 23, ageNames, ageUsersJan, ageRevenueJan, AGE_COLORS, {lt:23, lg:{gap:0.6}});
  dual(0, 81, devices, devUsers, devRevenue, ['#0072f0','#00b6cb','#f10096'], {lt:28});
  dual(112, 81, regions, regionUsers, regionRevenue, ['#e8457c','#4a86e8','#2fb6c9','#7cb342','#9575cd','#f06292','#26a69a','#5c6bc0','#ffb300','#8d6e63','#ef5350','#29b6f6','#66bb6a','#ab47bc','#ffa726','#f4743b'], {lt:12, lg:{s:1.9, gap:0.35, fs:1.8, icon:'rect'}});
})();

// ---------------- page 9: devices ----------------
(function(){
  const p = 8;
  chrome(p, 'デバイス');
  panel(p, 2, 22, 108, 59, 'デバイス別ユーザー数');
  panel(p, 113, 22, 108, 59, 'デバイス別売上');
  const devC = ['#0072f0','#00b6cb','#f10096'];
  chart(p, 2, 22, 108, 59, {legend:legV(devices, 64, 28), series:[pieS(devices, devUsers, devC, [30,35], [7.5,24], 2.3)]});
  chart(p, 113, 22, 108, 59, {legend:legV(devices, 64, 28), series:[pieS(devices, devRevenue, devC, [30,35], [7.5,24], 2.3)]});
  panel(p, 2, 84, 219, 53, 'デバイス別詳細');
  const cols = [
    {name:'ユーザー数', data:devUsers, bar:true, dark:true},
    {name:'新規ユーザー数', data:devNew, bar:true},
    {name:'セッション', data:devSessions, bar:true},
    {name:'PV', data:devPV, bar:true},
    {name:'エンゲージ率', data:devEng, bar:true, fmt:fmtP},
    {name:'平均滞在時間', data:devTime, bar:true, fmt:fmtT},
    {name:'購入数', data:devPurch, bar:true, fmt:fmtD},
    {name:'購入率', data:devCvr, bar:true, fmt:fmtP},
    {name:'購入単価', data:devAov, bar:true, fmt:fmtY},
    {name:'売上', data:devRevenue, bar:true, dark:true, fmt:fmtY}];
  table(p, 4, 91, 215, 18, {rows:devices, labelW:18, fs:2.2, labelHead:'デバイスカテゴリ', cols});
  table(p, 4, 131, 215, 4, {rows:['総計'], labelW:18, head:0, stripe:false, bold:true, fs:2.2, cols:[
    {data:[sum(devUsers)]},{data:[sum(devNew)]},{data:[sum(devSessions)]},{data:[sum(devPV)]},{data:['60.66%']},{data:['00:01:25']},
    {data:[sum(devPurch)], fmt:fmtD},{data:['4.03%']},{data:[sum(devRevenue)/sum(devPurch)], fmt:fmtY},{data:[sum(devRevenue)], fmt:fmtY}]});
})();

// ---------------- page 10: users by age ----------------
(function(){
  const p = 9;
  chrome(p, '年齢別ユーザー数の推移（月別）', '', {comment:'empty'});
  panel(p, 2, 22, 219, 59, '年齢別ユーザー数の推移チャート');
  stacked(p, 4, 30, 215, 50, ageNames, [ageUnknown, age1824, age2534, age3544, age4554, age5564, age65], AGE_COLORS);
  panel(p, 2, 84, 219, 53, '年齢別ユーザー数の推移表');
  el(p, 'sm', 203, 93, '1 - 7 / 7 &lt; &gt;', 'font-size:2px;');
  heat(p, 4, 96, 215, 38, ageNames, [ageUnknown, age1824, age2534, age3544, age4554, age5564, age65], 16);
})();

// ---------------- page 11: acquisition summary ----------------
(function(){
  const p = 10;
  chrome(p, '集客サマリ');
  panel(p, 2, 22, 219, 56, 'トラフィック獲得サマリ');
  panel(p, 2, 81, 219, 56, 'ユーザー獲得サマリ');
  const mk = (u,n,s,pv,e,t,pu,cv,ao,rv) => [
    {name:'ユーザー数', data:u, bar:true, dark:true},
    {name:'新規ユーザー数', data:n, bar:true},
    {name:'セッション', data:s, bar:true},
    {name:'PV', data:pv, bar:true},
    {name:'エンゲージ率', data:e, bar:true, fmt:fmtP},
    {name:'平均滞在時間', data:t, bar:true, fmt:fmtT},
    {name:'購入数', data:pu, bar:true, fmt:fmtD},
    {name:'購入率', data:cv, bar:true, fmt:fmtP},
    {name:'購入単価', data:ao, bar:true, fmt:fmtY},
    {name:'売上', data:rv, bar:true, dark:true, fmt:fmtY}];
  const totals = (u,n,s,pv,pu,rv) => [{data:[sum(u)]},{data:[sum(n)]},{data:[sum(s)]},{data:[sum(pv)]},{data:['60.66%']},{data:['00:01:25']},{data:[sum(pu)], fmt:fmtD},{data:['4.03%']},{data:[sum(rv)/sum(pu)], fmt:fmtY},{data:[sum(rv)], fmt:fmtY}];
  table(p, 4, 29, 215, 32, {rows:trCh, labelW:20, fs:2.2, labelHead:'チャネル', cols:mk(trUsers,trNew,trSess,trPV,trEng,trTime,trPurch,trCvr,trAov,trRev)});
  table(p, 4, 72, 215, 4, {rows:['総計'], labelW:20, head:0, stripe:false, bold:true, fs:2.2, cols:totals(trUsers,trNew,trSess,trPV,trPurch,trRev)});
  table(p, 4, 88, 215, 32, {rows:uaCh, labelW:20, fs:2.2, labelHead:'チャネル', cols:mk(uaUsers,uaNew,uaSess,uaPV,uaEng,uaTime,uaPurch,uaCvr,uaAov,uaRev)});
  table(p, 4, 131, 215, 4, {rows:['総計'], labelW:20, head:0, stripe:false, bold:true, fs:2.2, cols:totals(uaUsers,uaNew,uaSess,uaPV,uaPurch,uaRev)});
})();

// ---------------- page 12: users by channel ----------------
(function(){
  const p = 11;
  chrome(p, 'セッションのデフォルトチャネル別ユーザー数の推移（月別）', '', {comment:'empty'});
  panel(p, 2, 22, 219, 59, 'セッションのデフォルトチャネル別ユーザー数の推移チャート');
  const ch = [chOrganic, chDirect, chSocial, chUnassigned, chReferral, chShopping, chPaid];
  stacked(p, 4, 30, 215, 50, chNames, ch, CH_COLORS);
  panel(p, 2, 84, 219, 53, 'セッションのデフォルトチャネル別ユーザー数の推移表');
  el(p, 'sm', 203, 93, '1 - 7 / 7 &lt; &gt;', 'font-size:2px;');
  heat(p, 4, 96, 215, 38, chNames, ch, 16);
})();

// ---------------- page 13: engagement summary ----------------
(function(){
  const p = 12;
  chrome(p, 'エンゲージメントサマリ', '全期間の推移');
  panel(p, 2, 22, 108, 53, '第一階層');
  panel(p, 113, 22, 108, 53, 'イベント');
  const lvC = ['#f48fb1','#1e88e5','#ffa726','#8d6e63','#fdd835','#66bb6a','#ab47bc','#26c6da','#ef5350','#78909c'];
  const evC = ['#ec407a','#29b6f6','#546e7a','#ffa726','#26a69a','#ab47bc','#9ccc65','#ff7043','#5c6bc0','#ffca28'];
  chart(p, 2, 22, 56, 53, {title:{text:'ページビュー数', left:18, top:9, textAlign:'center', padding:0, textStyle:{fontSize:2.4, fontWeight:'bold', color:'#3c4043'}},
    legend:legV(level1, 36, 14, {s:2, gap:0.5, fs:1.8, icon:'rect'}), series:[pieS(level1, level1PV, lvC, [18,30], [5,15.5])]});
  chart(p, 113, 22, 56, 53, {title:{text:'イベント数', left:19, top:9, textAlign:'center', padding:0, textStyle:{fontSize:2.4, fontWeight:'bold', color:'#3c4043'}},
    legend:legV(events, 37, 14, {s:2, gap:0.5, fs:1.6, icon:'rect'}), series:[pieS(events, eventCounts, evC, [19,30], [5,15.5])]});
  table(p, 58, 27, 50, 42, {rows:level1, labelW:18, numbered:true, fs:1.9, labelHead:'第一階層', cols:[{name:'PV ↓', data:level1PV, bar:true, dark:true, w:1.2, nw:0.55}, {name:'前月比', data:level1Change, delta:true, w:0.8}]});
  table(p, 58, 70, 50, 3.5, {rows:['総計'], labelW:18, head:0, stripe:false, bold:true, fs:1.9, cols:[{data:[sum(level1PV)], w:1.2}, {data:['+9.6%'], w:0.8}]});
  table(p, 169, 27, 50, 42, {rows:events, labelW:19, numbered:true, clip:12, fs:1.9, labelHead:'イベント名', cols:[{name:'イベント数 ↓', data:eventCounts, bar:true, dark:true, w:1.2, nw:0.55}, {name:'前月比', data:eventChange, delta:true, w:0.8}]});
  table(p, 169, 70, 50, 3.5, {rows:['総計'], labelW:19, head:0, stripe:false, bold:true, fs:1.9, cols:[{data:[sum(eventCounts)], w:1.2}, {data:['+14.1%'], w:0.8}]});
  panel(p, 2, 78, 70, 59, 'ページ');
  panel(p, 75, 78, 72, 59, 'ランディングページ');
  panel(p, 150, 78, 71, 59, 'サイト内検索キーワード');
  table(p, 4, 85, 66, 42, {rows:pagePaths, labelW:40, numbered:true, fs:1.9, labelHead:'ページパスとスクリーンクラス', cols:[{name:'PV ↓', data:pagePathPV, w:1}, {name:'売上', data:['¥48,200','¥21,800','¥15,600','¥11,600','-','¥7,900','¥6,400','¥8,200','-','¥2,300'], w:1}]});
  table(p, 4, 131, 66, 3.5, {rows:['総計'], labelW:40, head:0, stripe:false, bold:true, fs:1.9, cols:[{data:[sum(pagePathPV)], w:1}, {data:['¥244,567'], w:1}]});
  table(p, 77, 85, 68, 42, {rows:landingPaths, labelW:32, numbered:true, fs:1.9, labelHead:'ランディングページ', cols:[{name:'セッション ↓', data:landingSessions, bar:true, dark:true, w:1.2, nw:0.5}, {name:'売上', data:landingRevenue, fmt:fmtY, w:0.9}]});
  table(p, 77, 131, 68, 3.5, {rows:['総計'], labelW:32, head:0, stripe:false, bold:true, fs:1.9, cols:[{data:[sum(landingSessions)], w:1.2}, {data:[sum(landingRevenue)], fmt:fmtY, w:0.9}]});
  table(p, 152, 85, 67, 24, {rows:searchKeywords, labelW:22, numbered:true, fs:1.9, labelHead:'検索キーワード', cols:[{name:'検索回数 ↓', data:searchCounts, bar:true, dark:true, w:1.5, nw:0.2}, {name:'売上', data:['¥4,200','¥6,300','-','¥2,100','¥3,500'], w:0.6}]});
  table(p, 152, 131, 67, 3.5, {rows:['総計'], labelW:22, head:0, stripe:false, bold:true, fs:1.9, cols:[{data:[sum(searchCounts)], w:1.5}, {data:['¥16,100'], w:0.6}]});
})();

// ---------------- page 14: landing page evaluation ----------------
(function(){
  const p = 13;
  chrome(p, 'ランディングページ評価');
  chart(p, 12, 24, 210, 98, {
    title:{text:'バブルの大きさ：売上', left:'center', top:1, padding:0, textStyle:{fontSize:3.2, fontWeight:'bold', color:'#3c4043'}},
    legend:{data:['ランディングページ'], left:18, top:6, itemWidth:2.5, itemHeight:2.5, icon:'circle', textStyle:{fontSize:2, color:'#5f6368'}, padding:0, selectedMode:false},
    grid:{left:14, right:5, top:10, bottom:6, outerBoundsMode:'none'},
    xAxis:{type:'value', min:0, max:130, interval:10, name:'セッション数', nameLocation:'middle', nameGap:3.5, nameTextStyle:{fontSize:1.9, color:'#777'},
      axisLabel:{fontSize:1.8, color:'#777', margin:1.2}, axisLine:{lineStyle:{color:'#c8ccd2', width:0.4}}, splitLine:{lineStyle:{color:'#e6e8ec', width:0.3}}},
    yAxis:{type:'value', min:0, max:14000, interval:1000, name:'売上 / セッション', nameLocation:'middle', nameGap:10, nameTextStyle:{fontSize:1.9, color:'#777'},
      axisLabel:{fontSize:1.7, color:'#777', margin:1.2, formatter:v=>'¥'+fmtN(v)}, axisLine:{lineStyle:{color:'#c8ccd2', width:0.4}}, splitLine:{lineStyle:{color:'#e6e8ec', width:0.3}}},
    series:[{type:'scatter', name:'ランディングページ', data:lpNames.map((n,i)=>({name:n, value:[lpSessions[i], lpRevPerSession[i], lpRevenue[i]]})),
      symbolSize:v=>Math.sqrt(v[2]) / 28, itemStyle:{color:'#1a4fdc', opacity:0.95},
      label:{show:true, position:'right', distance:1, fontSize:1.7, color:'#888', formatter:q=>q.name},
      markArea:{silent:true, label:{show:true, position:'inside', fontSize:4.2, fontWeight:'bold', color:'#3c4043', offset:[0,-4]},
        data:[
          [{name:'伸びしろ', xAxis:0, yAxis:quadY, itemStyle:{color:'#e9f4e8'}}, {xAxis:quadX, yAxis:14000}],
          [{name:'優良', xAxis:quadX, yAxis:quadY, itemStyle:{color:'#e5eefb'}}, {xAxis:130, yAxis:14000}],
          [{name:'優先度低', xAxis:0, yAxis:0, itemStyle:{color:'#fdf6df'}}, {xAxis:quadX, yAxis:quadY}],
          [{name:'要改善', xAxis:quadX, yAxis:0, itemStyle:{color:'#fbe8ea'}}, {xAxis:130, yAxis:quadY}]]}}]
  });
  el(p, '', 3, 34.5, '高い', 'font-size:2.5px;color:#1a56db;font-weight:700;');
  el(p, '', 3, 113, '低い', 'font-size:2.5px;color:#d93025;font-weight:700;');
  el(p, '', 1, 64, '売上<br>/セッシ<br>ョン', 'font-size:3px;line-height:1.25;text-align:center;width:13px;white-space:normal;color:#3c4043;');
  el(p, '', 15.7, 36, '', 'width:0;height:80px;border-left:0.5px solid #666;');
  el(p, '', 14.5, 34.5, '▲', 'font-size:2.5px;color:#666;');
  el(p, '', 14.5, 114.5, '▼', 'font-size:2.5px;color:#666;');
  el(p, '', 28, 124.8, '', 'width:189px;height:0;border-top:0.5px solid #666;');
  el(p, '', 26.6, 123.6, '◀', 'font-size:2.5px;color:#666;');
  el(p, '', 216, 123.6, '▶', 'font-size:2.5px;color:#666;');
  el(p, '', 29, 127.5, '低い', 'font-size:2.5px;color:#d93025;font-weight:700;');
  el(p, '', 112, 127.3, 'セッション数', 'font-size:3.2px;color:#3c4043;');
  el(p, '', 212, 127.5, '高い', 'font-size:2.5px;color:#1a56db;font-weight:700;');
})();

// ---------------- page 15: product categories ----------------
(function(){
  const p = 14;
  chrome(p, '商品カテゴリ', '全期間の推移');
  panel(p, 2, 22, 108, 61, '商品ページビュー');
  panel(p, 113, 22, 108, 61, '商品カテゴリ別売上');
  const cc = ['#0072f0','#00b6cb','#f66d00','#ffa800','#f10096','#7cb342','#5e35b1','#e91e63','#ff7043','#26c6da'];
  chart(p, 2, 22, 108, 61, {legend:legV(categories, 66, 17, {s:2.2, gap:0.6, fs:1.9}), series:[pieS(categories, catPV, cc, [32,36], [7.5,23], 2.2)]});
  chart(p, 113, 22, 108, 61, {legend:legV(categories, 66, 17, {s:2.2, gap:0.6, fs:1.9}), series:[pieS(categories, catRevenue, cc, [33,35], [7.5,23], 2.2)]});
  panel(p, 2, 86, 219, 52, '商品カテゴリ別詳細');
  table(p, 4, 93, 215, 30, {rows:cat6, labelW:18, fs:2, labelHead:'商品カテゴリ', cols:[
    {name:'ユーザー数', data:catUsers6, bar:true, w:1.4}, {name:'前年比', data:catUsersChg, delta:true, w:0.7},
    {name:'商品ページビュー', data:catPV6, bar:true, w:1.4}, {name:'前年比', data:catPVChg, delta:true, w:0.7},
    {name:'商品売上 ↓', data:catRev6, bar:true, dark:true, fmt:fmtY, w:1.4}, {name:'前年比', data:catRevChg, delta:true, w:0.7},
    {name:'商品購入数', data:catPurch6, bar:true, w:1.4}, {name:'前年比', data:catPurchChg, delta:true, w:0.7},
    {name:'商品の平均単価', data:catAvg6, bar:true, fmt:fmtY, w:1.4}, {name:'前年比', data:catAvgChg, delta:true, w:0.7}]});
  table(p, 4, 126, 215, 4, {rows:['総計'], labelW:18, head:0, stripe:false, bold:true, fs:2, cols:[
    {data:[sum(catUsers6)], w:1.4}, {data:['+92.3%'], w:0.7}, {data:[sum(catPV6)], w:1.4}, {data:['+96.0%'], w:0.7},
    {data:[sum(catRev6)], fmt:fmtY, w:1.4}, {data:['+110.8%'], w:0.7}, {data:[sum(catPurch6)], w:1.4}, {data:['+98.3%'], w:0.7},
    {data:[sum(catRev6)/sum(catPurch6)], fmt:fmtY, w:1.4}, {data:['+6.3%'], w:0.7}]});
  el(p, 'sm', 196, 132, '1 - 6 / 6 &lt; &gt;', 'font-size:2px;');
})();

// ---------------- page 16: product list ----------------
(function(){
  const p = 15;
  chrome(p, '商品の一覧', '', {comment:false});
  table(p, 0, 24, 222, 100, {rows:products21, labelW:22, fs:2.1, labelHead:'商品名', cols:[
    {name:'ユーザー数', data:prodUsers, bar:true, nw:0.35},
    {name:'商品ページビュー', data:prodPV, bar:true, nw:0.35},
    {name:'商品売上 ↓', data:prodRevenue, bar:true, dark:true, fmt:fmtY, nw:0.4},
    {name:'商品購入数', data:prodPurch, bar:true, nw:0.35},
    {name:'商品の平均単価', data:prodAvg, bar:true, fmt:fmtY, nw:0.4}]});
})();
</script>
</body>
</html>
